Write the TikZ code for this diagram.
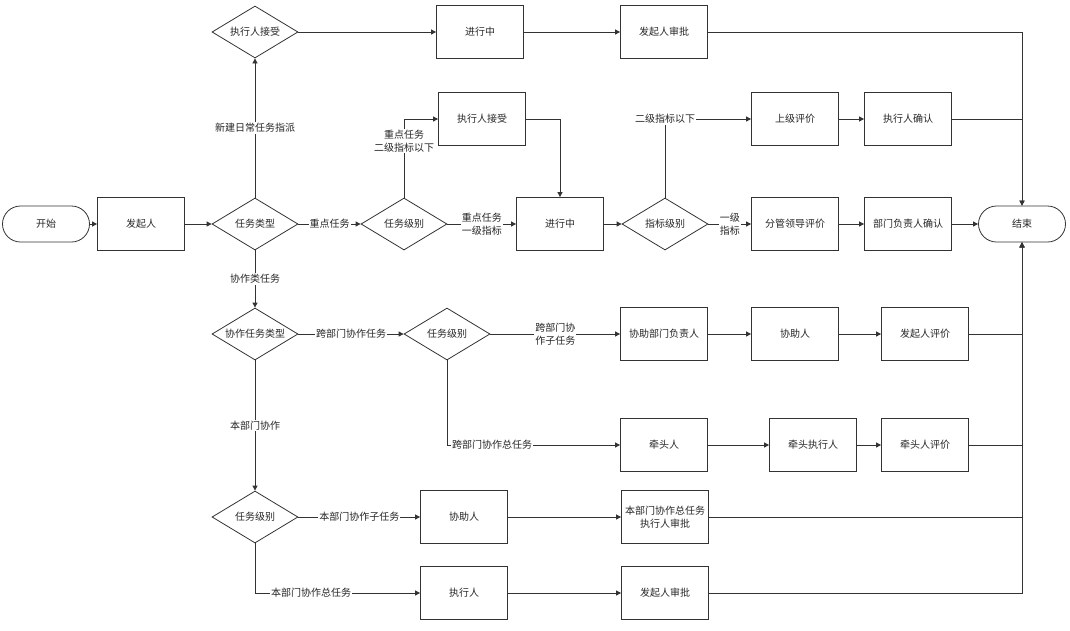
\documentclass[tikz,border=0pt]{standalone}
\usepackage{fontspec}
\setmainfont{Noto Sans CJK SC}
\usetikzlibrary{shapes.geometric,arrows.meta}
\tikzset{
    every node/.style={font=\fontsize{10}{13.5}\selectfont, text=black!85}
}
\tikzset{
    box/.style={rectangle, draw=black!80, line width=.8pt, minimum width=87pt,
    	minimum height=53pt, align=center},
    term/.style={rectangle, rounded corners=18pt, draw=black!80, line width=.8pt,
    	minimum width=87pt, minimum height=36pt},
    decision/.style={diamond, draw=black!80, line width=.8pt, aspect=1.65,
    	minimum width=86pt, minimum height=52pt, inner sep=0pt},
    lbl/.style={fill=white, inner sep=1pt, align=center}
}
\tikzset{
    flow/.style={draw=black!80, line width=.8pt, -{Triangle[length=5pt,width=5pt]}}
}
\tikzset{
    every edge/.append style={flow}
}

\begin{document}
\begin{tikzpicture}[x=1pt,y=-1pt]
	\useasboundingbox (0,0) rectangle (1070,630);
	\node[term] (1) at (46,224) {开始};
	\node[box] (2) at (141,224) {发起人};
	\node[decision] (3) at (255,224) {任务类型};
	\node[decision] (4) at (255,32) {执行人接受};
	\node[box] (5) at (480,32) {进行中};
	\node[box] (6) at (664,32) {发起人审批};
	\node[decision] (7) at (404,224) {任务级别};
	\node[box] (8) at (482,119) {执行人接受};
	\node[box] (9) at (560,224) {进行中};
	\node[decision] (10) at (665,224) {指标级别};
	\node[box] (11) at (795,119) {上级评价};
	\node[box] (12) at (908,119) {执行人确认};
	\node[box] (13) at (795,224) {分管领导评价};
	\node[box] (14) at (908,224) {部门负责人确认};
	\node[term] (15) at (1022,224) {结束};
	\node[decision] (16) at (255,334) {协作任务类型};
	\node[decision] (17) at (447,334) {任务级别};
	\node[box] (18) at (664,334) {协助部门负责人};
	\node[box] (19) at (795,334) {协助人};
	\node[box] (20) at (925,334) {发起人评价};
	\node[box] (21) at (664,445) {牵头人};
	\node[box] (22) at (813,445) {牵头执行人};
	\node[box] (23) at (925,445) {牵头人评价};
	\node[decision] (24) at (255,517) {任务级别};
	\node[box] (25) at (464,517) {协助人};
	\node[box] (26) at (665,517) {本部门协作总任务\\执行人审批};
	\node[box] (27) at (464,593) {执行人};
	\node[box] (28) at (665,593) {发起人审批};

	\draw (1) edge (2); \draw (2) edge (3);
	\draw (3) edge node[lbl] (l1) {新建日常任务指派} (4);
	\draw (4) edge (5); \draw (5) edge (6);
	\draw (3) edge node[lbl] (l2) {重点任务} (7);
	\draw (7) edge node[lbl] (l3) {重点任务\\一级指标} (9);
	\draw[flow] (7) |- node[lbl, pos=.36] (l4) {重点任务\\二级指标以下} (8);
	\draw[flow] (8) -| (9);
	\draw (9) edge (10);
	\draw[flow] (10) |- node[lbl, pos=.5] (l5) {二级指标以下} (11);
	\draw (10) edge node[lbl] (l6) {一级\\指标} (13);
	\draw (11) edge (12); \draw (13) edge (14); \draw (14) edge (15);
	\draw[flow] (6) -| (15.north);
	\draw[flow] (12) -| (15.north);
	\draw (3) edge node[lbl] (l7) {协作类任务} (16);
	\draw (16) edge node[lbl] (l8) {跨部门协作任务} (17);
	\draw (17) edge node[lbl] (l9) {跨部门协\\作子任务} (18);
	\draw[flow] (17) |- node[lbl, pos=.63] (l10) {跨部门协作总任务} (21);
	\draw (18) edge (19); \draw (19) edge (20);
	\draw (21) edge (22); \draw (22) edge (23);
	\draw (16) edge node[lbl] (l11) {本部门协作} (24);
	\draw (24) edge node[lbl] (l12) {本部门协作子任务} (25);
	\draw[flow] (24) |- node[lbl, pos=.67] (l13) {本部门协作总任务} (27);
	\draw (25) edge (26); \draw (27) edge (28);
	\draw[flow] (20) -| (15.south);
	\draw[flow] (23) -| (15.south);
	\draw[flow] (26) -| (15.south);
	\draw[flow] (28) -| (15.south);
\end{tikzpicture}
\end{document}
